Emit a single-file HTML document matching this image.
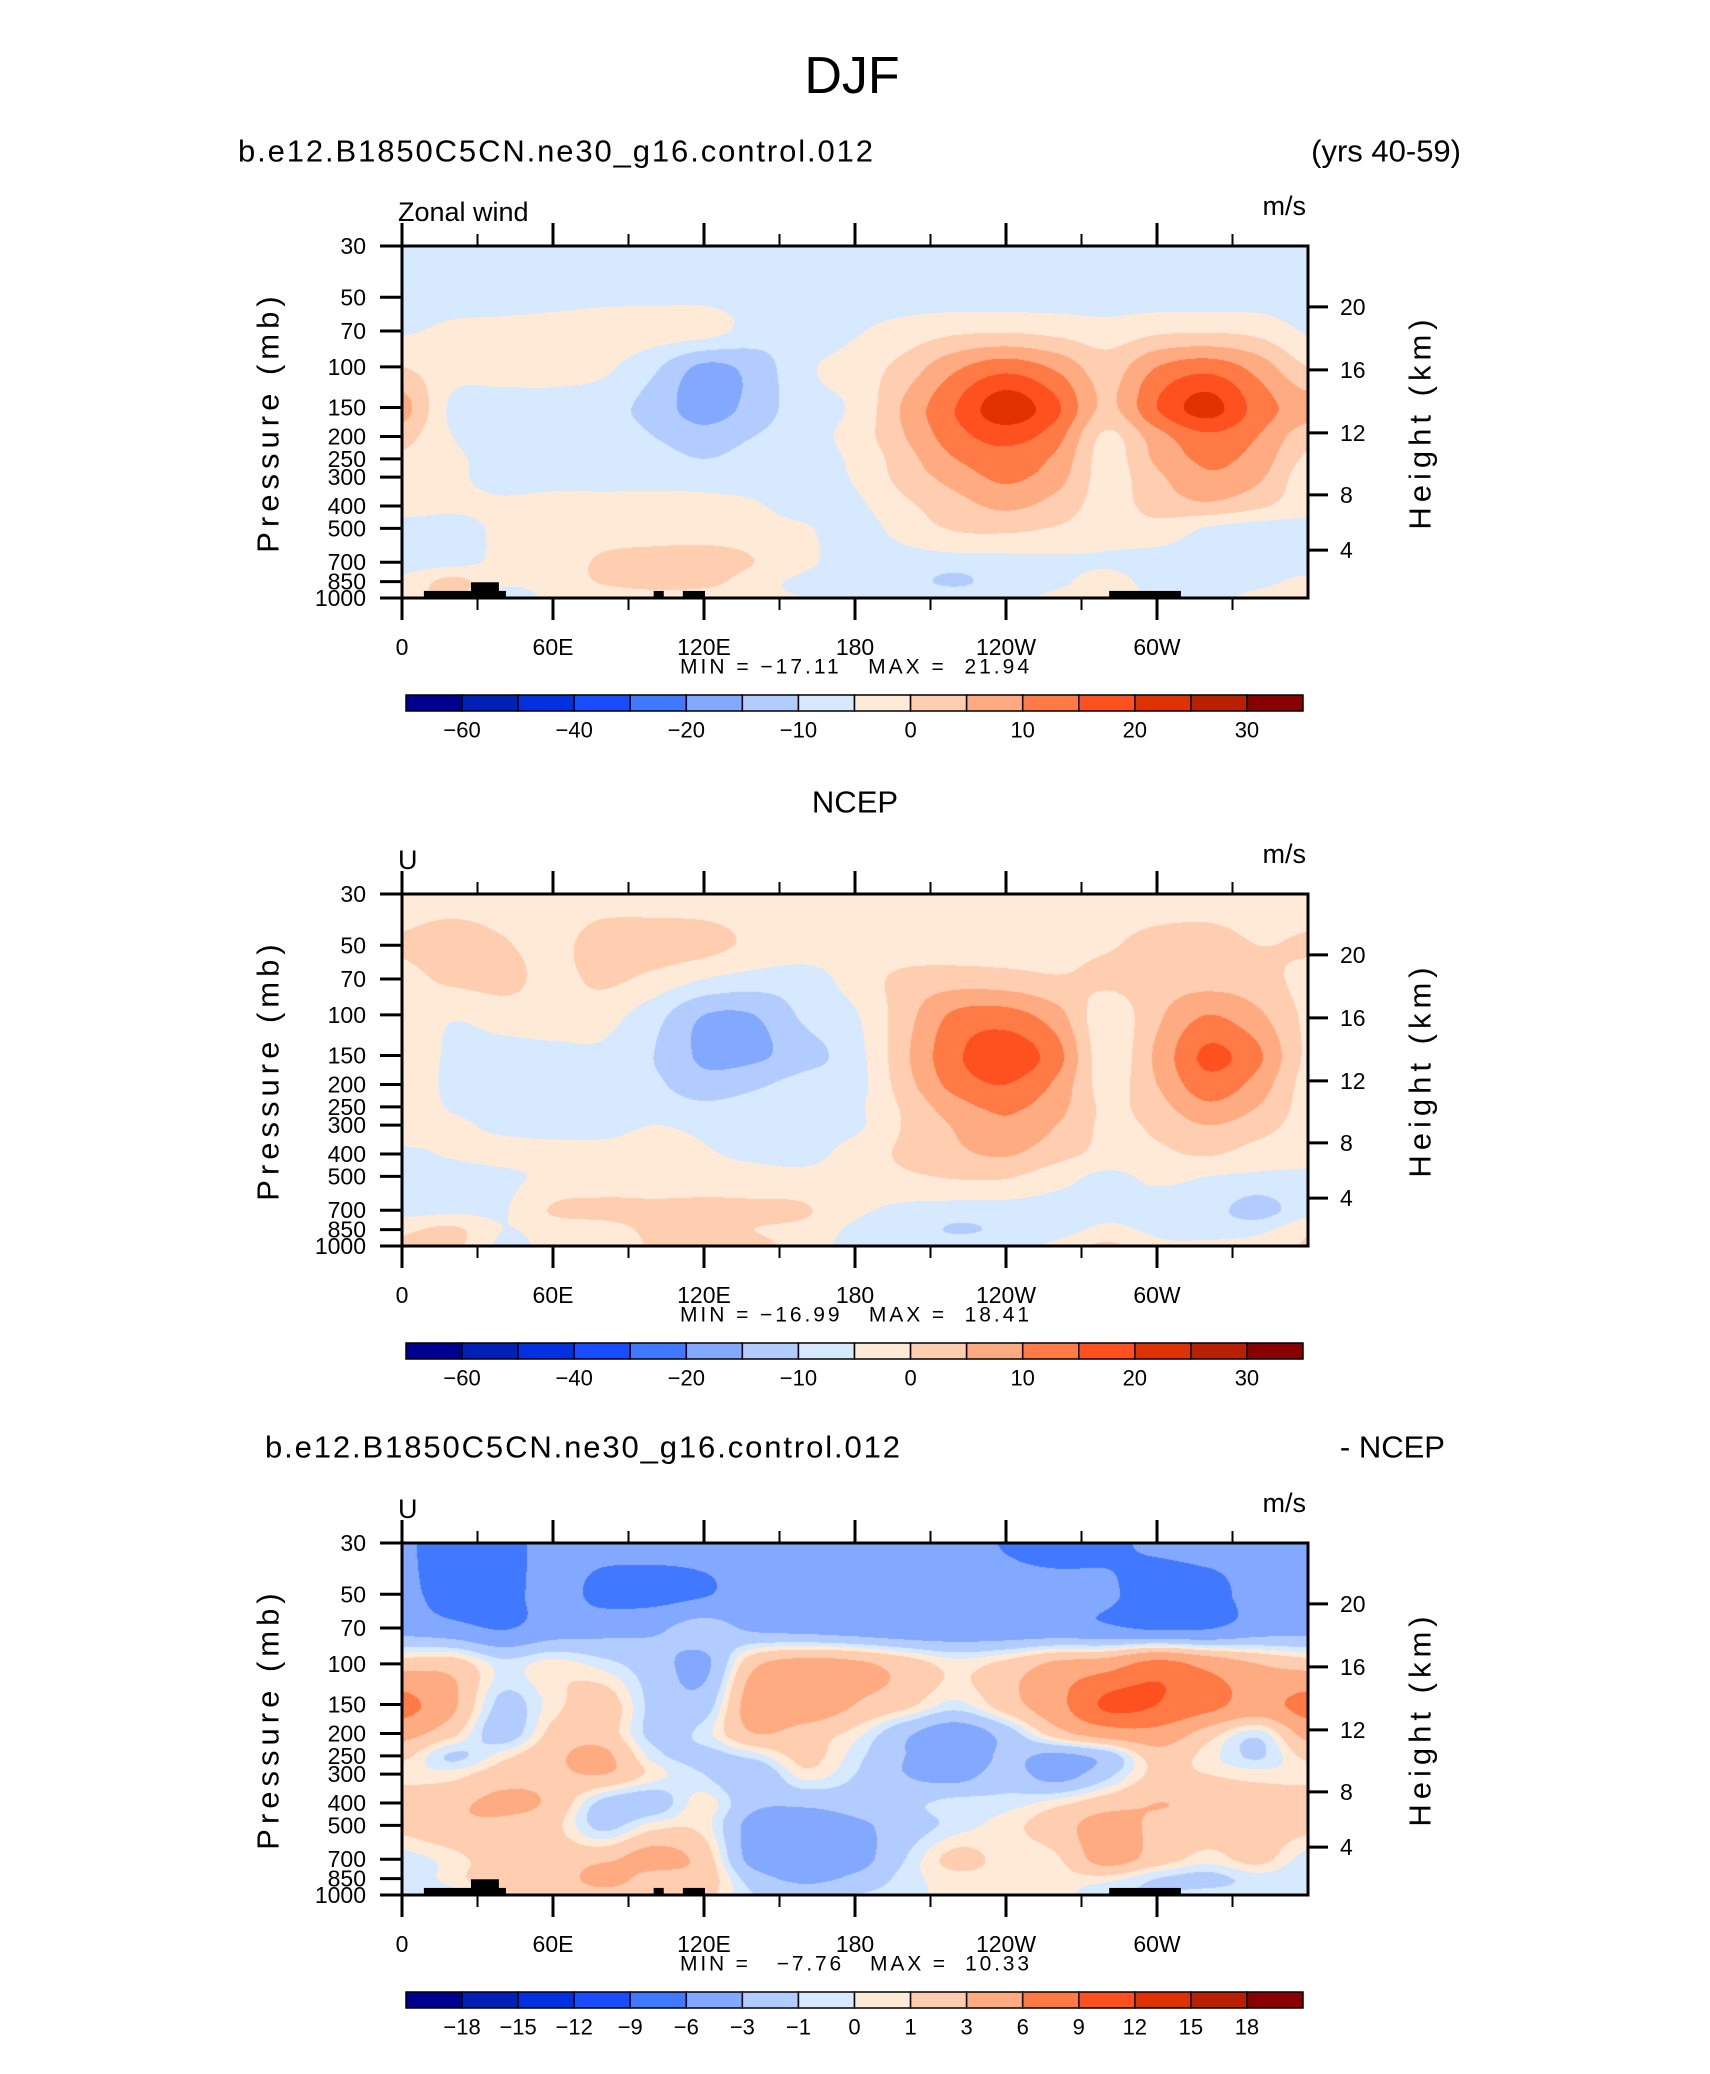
<!DOCTYPE html>
<html><head><meta charset="utf-8">
<style>
html,body{margin:0;padding:0;background:#fff;}
body{width:1710px;height:2074px;position:relative;overflow:hidden;font-family:"Liberation Sans",sans-serif;}
canvas{position:absolute;}
#ov{position:absolute;left:0;top:0;}
</style></head>
<body>
<canvas id="c1" width="906" height="352" style="left:402px;top:246px"></canvas>
<canvas id="c2" width="906" height="352" style="left:402px;top:894px"></canvas>
<canvas id="c3" width="906" height="352" style="left:402px;top:1543px"></canvas>
<svg id="ov" width="1710" height="2074" xmlns="http://www.w3.org/2000/svg"></svg>
<script>
const lons = [0,20,40,60,80,100,120,140,160,180,200,220,240,260,280,300,320,340,360];
const levs = [30,50,70,100,150,200,250,300,400,500,700,850,1000];
const presTicks = [30,50,70,100,150,200,250,300,400,500,700,850,1000];
const heightTicks = ["20","16","12","8","4"];
const lonTickLabels = ["0","60E","120E","180","120W","60W"];
const lonMajor = [0,60,120,180,240,300];
const lonMinor = [30,90,150,210,270,330];
const levels12 = [-60,-50,-40,-30,-20,-15,-10,-5,0,5,10,15,20,25,30];
const labels12 = [-60,-40,-20,-10,0,10,20,30];
const levels3 = [-18,-15,-12,-9,-6,-3,-1,0,1,3,6,9,12,15,18];
const labels3 = [-18,-15,-12,-9,-6,-3,-1,0,1,3,6,9,12,15,18];
const colors = ["#000090","#0020b8","#0030e0","#1a4cff","#4078ff","#82a8ff","#b3ccff","#d6e9ff","#ffead8","#ffcdb0","#ffab82","#ff7a45","#ff5020","#e03200","#b82000","#880000"];
const topo = [[8.7,41.3,932],[27.4,38.5,855],[100,104,932],[111.6,120.4,932],[281,309.5,932]];

const u1 = [
[-7,-7,-7,-7,-7,-7,-7,-7,-7,-7,-7,-7,-7,-7,-7,-7,-7,-7,-7],
[-7,-7,-7,-6.5,-6,-6,-6,-7,-7,-7,-7,-7,-7,-7,-7,-7,-7,-7,-7],
[-5.5,-4,-3.5,-3,-2.5,-2.5,-3,-7,-8,-5.5,-3,-1,-0.5,-1.5,-3,-1,-0.5,-1.5,-5.5],
[0,-3,-3,-3,-4,-9,-16,-13,-6,-3,2,9,13,9,2.5,10,13,8,0],
[7,-6,-7,-7,-8,-12,-17.5,-13,-7,-4,6,15,23,16,4,15,22,13,7],
[2,-5,-7,-7,-7,-10,-13,-10,-7,-3,5,13,17,12,-1,8,14,10,2],
[-1,-4,-7,-7,-7,-8,-10,-8,-7,-4,3,10,13,9,-2,6,11,8,-1],
[-3,-4,-7,-7,-7,-7,-7,-7,-7,-4.5,2,7,11,7,-2,4,9,6,-3],
[-3,-4,-4,-3,-3,-3,-3.5,-4.5,-7,-6,-1,3,6,3,-2,2,4,1,-3],
[-7,-7,-4,-3.5,-3,-3,-3,-3,-4.5,-7,-3,0.5,1,-0.5,-3,-2,-5.5,-7,-7],
[-7,-6.5,-4,-3.5,1,2.5,3,0,-4,-7,-7,-7,-6.5,-6,-5.5,-7,-7,-7,-7],
[-4,1.5,-4,-3,0.5,2,2,-3,-6,-7,-8,-11,-7,-6,-3,-7,-7,-6,-4],
[-3,1,-7,-4,-3,-2,-3,-4,-5,-5.5,-6,-6,-6,-4,-1,-6,-6,-4,-3]
];
const u2 = [
[-2.5,-2.5,-2.5,-2.5,-2.5,-2.5,-2.5,-2.5,-2.5,-2.5,-2.5,-2.5,-2.5,-2.5,-2.5,-2.5,-2.5,-2.5,-2.5],
[0.5,2.5,0.5,-1.5,2.5,2.5,1.5,-1,-2.5,-3,-3,-2.5,-2.5,-1.5,-0.5,1.5,2,0,0.5],
[-1.5,1,1.5,-1.5,1,-1.5,-5,-7,-7,-3,1.5,2.5,2,0.5,1,2.5,3,2,-1.5],
[-1,-4.5,-2.5,-2,-3,-8,-15,-15,-9,-5.5,3,11,12,7,-3,4,10,6,-1],
[-1,-6,-7,-6.5,-6,-10,-16,-16,-12,-7,4,14,18,12,-3,6,16,11,-1],
[-2,-6,-7,-7,-7,-9,-13,-11,-8,-7,3,12,15,9,-2,5,13,8,-2],
[-2,-5.5,-7,-7,-7,-7.5,-9,-8,-7,-6,1,8,11,7,-1,3,9,5,-2],
[-2,-4,-6,-7,-6.5,-5,-6,-7,-7,-6,0.5,5.5,9,5,-1,1,5,2,-2],
[-6,-4.5,-3.5,-3,-3.5,-3,-4.5,-6,-6.5,-3,1,4,5.5,2,-1.5,-1,0.5,-2,-3],
[-7,-7,-6,-4,-3.5,-3.5,-3,-3,-3.5,-3,-1,0.5,0.5,-3,-6,-4,-5,-6,-6],
[-7,-6,-5.5,0.5,1.5,1.5,1.5,1,0.5,-4,-6,-7,-7,-7,-6,-7,-8,-12,-7],
[-1,1,-5,-3,-2,1,1,0,-1.5,-6,-7.5,-10.5,-9,-7,-4,-6,-7,-6.5,-1],
[0.5,1.5,-6,-3.5,-3,0.5,1,1,-2,-7,-7,-7,-6,-4,1,-4,-4,-3,0.5]
];
const u3 = [
[-5.5,-7.5,-7,-5,-5,-5,-5,-5,-4.5,-4.5,-5,-5,-6.2,-7,-6.5,-5.5,-5,-5.5,-5.5],
[-5,-7.5,-7,-5,-6.8,-7,-6.2,-5,-5,-5,-5,-5,-5,-5,-5.5,-7.5,-7,-5,-5],
[-4,-5,-6.2,-4.5,-4,-3.5,-2,-3.5,-4,-4.5,-5,-5,-5,-5,-5.5,-6.5,-6.2,-4.5,-4],
[2,2,-0.5,0.5,-0.5,-2,-3.5,2.5,4,3.5,2,0.5,1.5,3.5,4.5,7,5,3,2],
[7,3.5,-1.5,0.5,2,-1.5,-2,4.5,5,3,1.5,-0.3,2,5,9.5,9,7,5,7],
[4,1.5,-2,1.5,2,-1.5,-0.5,3,2,0.5,-2.5,-4.5,-2,2,4.5,5,2,-0.5,4],
[1.5,-1.2,0.5,2.5,3.5,-0.5,-1.5,-0.5,1.5,-0.5,-3,-5,-2.5,-3.5,-2,2,0.5,-1.2,1.5],
[0.5,0.5,2,2.5,3,0.5,-1,-2.5,0.5,-1,-3,-4,-2,-4,-1.5,1.5,1,0.5,0.5],
[2,2.5,3.5,2.5,-1.5,-2,0.5,-2.5,-2.5,-2,-1.5,-0.5,-0.5,0.5,2,3,2.5,2,2],
[1.5,2.5,2.5,1.5,-1.5,0.5,0.5,-4,-4.5,-3.5,-2,-0.5,0.5,2,4,2.5,2,2,1.5],
[-0.5,0.5,2,2,2.5,4,2,-4,-4.5,-4,-1,1.5,0.5,0.8,4,2,0.5,1.5,-0.5],
[-1,0.5,2,1.5,4,2,2,-2,-3.5,-2.5,-0.5,0.5,0.5,0.5,0.5,-1,-1.5,-0.5,-1],
[-0.5,-0.5,2,1.5,2,1.5,1.5,-1,-2,-1,-0.5,0.5,0.5,0.5,-1,-1,-0.5,-0.5,-0.5]
];

const PX0 = 402, PW = 906, PH = 352;
const LR = Math.log(1000/30);
function yOfP(p){ return Math.log(p/30)/LR*PH; }
function xOfLon(l){ return l/360*PW; }
function hexToRgb(h){ return [parseInt(h.substr(1,2),16),parseInt(h.substr(3,2),16),parseInt(h.substr(5,2),16)]; }
const rgb = colors.map(hexToRgb);

function cr(p0,p1,p2,p3,t){
  return p1 + 0.5*t*(p2-p0 + t*(2*p0-5*p1+4*p2-p3 + t*(3*(p1-p2)+p3-p0)));
}
function sample(grid, r, c){
  const nr = grid.length, nc = grid[0].length;
  const ri = Math.floor(r), ci = Math.floor(c);
  const tr = r-ri, tc = c-ci;
  const rows = [];
  for (let k=-1;k<=2;k++){
    const rr = Math.min(nr-1, Math.max(0, ri+k));
    const vals = [];
    for (let m=-1;m<=2;m++){
      const cc = Math.min(nc-1, Math.max(0, ci+m));
      vals.push(grid[rr][cc]);
    }
    rows.push(cr(vals[0],vals[1],vals[2],vals[3],tc));
  }
  return cr(rows[0],rows[1],rows[2],rows[3],tr);
}
function renderField(id, grid, lv){
  const cv = document.getElementById(id);
  const ctx = cv.getContext('2d');
  const img = ctx.createImageData(PW, PH);
  const lnl = levs.map(Math.log);
  for (let py=0; py<PH; py++){
    const lp = Math.log(30) + (py+0.5)/PH*LR;
    let i=0; while (i<levs.length-2 && lp>lnl[i+1]) i++;
    let r = i + (lp-lnl[i])/(lnl[i+1]-lnl[i]);
    r = Math.max(0, Math.min(levs.length-1, r));
    for (let px=0; px<PW; px++){
      const lon = (px+0.5)/PW*360;
      const c = Math.min(lons.length-1.0001, lon/20);
      const v = sample(grid, r, c);
      let k=0; while (k<lv.length && v>=lv[k]) k++;
      const col = rgb[k];
      const o = (py*PW+px)*4;
      img.data[o]=col[0]; img.data[o+1]=col[1]; img.data[o+2]=col[2]; img.data[o+3]=255;
    }
  }
  ctx.putImageData(img,0,0);
}
renderField('c1', u1, levels12);
renderField('c2', u2, levels12);
renderField('c3', u3, levels3);

const NS = "http://www.w3.org/2000/svg";
const ov = document.getElementById('ov');
function mk(tag, attrs, parent){
  const e = document.createElementNS(NS, tag);
  for (const k in attrs) e.setAttribute(k, attrs[k]);
  (parent||ov).appendChild(e);
  return e;
}
function txt(x,y,s,size,anchor,parent){
  const t = mk('text',{x:x,y:y,'font-size':size,'text-anchor':anchor||'start','dominant-baseline':'central','font-family':'Liberation Sans, sans-serif',fill:'#000'},parent);
  t.textContent = s;
  return t;
}
const hFrac = [0.173,0.352,0.531,0.707,0.864];

function drawPanel(top, opts){
  const g = mk('g',{});
  
  
  if (opts.topo){
    topo.forEach(tp=>{
      const x0 = PX0 + xOfLon(tp[0]), x1 = PX0 + xOfLon(tp[1]);
      const y0 = top + yOfP(tp[2]);
      const r = mk('rect',{x:x0,y:y0,width:x1-x0,height:top+PH-y0,fill:'#000'},g);
      
      
    });
  }
  const fr = mk('rect',{x:PX0,y:top,width:PW,height:PH,fill:'none',stroke:'#000','stroke-width':3},g);
  
  
  presTicks.forEach(p=>{
    const y = top + yOfP(p);
    mk('line',{x1:PX0-22,y1:y,x2:PX0,y2:y,stroke:'#000','stroke-width':3},g);
    const t = txt(PX0-36, y, String(p), 23, 'end', g);
    
    
  });
  heightTicks.forEach((h,i)=>{
    const y = top + hFrac[i]*PH;
    mk('line',{x1:PX0+PW,y1:y,x2:PX0+PW+20,y2:y,stroke:'#000','stroke-width':3},g);
    const t = txt(PX0+PW+32, y, h, 23, 'start', g);
    
    
  });
  lonMajor.forEach((l,i)=>{
    const x = PX0 + xOfLon(l);
    mk('line',{x1:x,y1:top-23,x2:x,y2:top,stroke:'#000','stroke-width':3},g);
    mk('line',{x1:x,y1:top+PH,x2:x,y2:top+PH+22,stroke:'#000','stroke-width':3},g);
    const t = txt(x, top+401, lonTickLabels[i], 23, 'middle', g);
    
    
  });
  lonMinor.forEach(l=>{
    const x = PX0 + xOfLon(l);
    mk('line',{x1:x,y1:top-12,x2:x,y2:top,stroke:'#000','stroke-width':2},g);
    mk('line',{x1:x,y1:top+PH,x2:x,y2:top+PH+12,stroke:'#000','stroke-width':2},g);
  });
  const ya = txt(0,0,'Pressure (mb)',31,'middle',g);
  ya.setAttribute('transform','translate(268,'+(top+176)+') rotate(-90)');
  ya.setAttribute('letter-spacing','5');
  
  
  const yr = txt(0,0,'Height (km)',31,'middle',g);
  yr.setAttribute('transform','translate(1420,'+(top+176)+') rotate(-90)');
  yr.setAttribute('letter-spacing','5');
  
  
  const vl = txt(398, top-34, opts.varName, 27, 'start', g);
  
  
  const ul = txt(1306, top-40, 'm/s', 27, 'end', g);
  
  
  const mm = txt(680, top+421, opts.minmax, 21, 'start', g);
  
  
  mm.setAttribute('textLength', '349');
  mm.setAttribute('lengthAdjust', 'spacing');
  mm.style.whiteSpace = 'pre';
  const cbx = 406, cbw = 897, cby = top+449, cbh = 16, bw = cbw/16;
  colors.forEach((c,k)=>{
    const b = mk('rect',{x:cbx+k*bw,y:cby,width:bw,height:cbh,fill:c,stroke:'#000','stroke-width':1.5},g);
    
    
  });
  opts.levels.forEach((v,i)=>{
    if (opts.labels.indexOf(v) < 0) return;
    const x = cbx + (i+1)*bw;
    const t = txt(x, top+484, (v<0?'\u2212'+(-v):String(v)), 22, 'middle', g);
    
    
  });
}

const title = txt(852, 76, 'DJF', 52, 'middle');


const s1 = txt(238, 151, 'b.e12.B1850C5CN.ne30_g16.control.012', 31, 'start');


s1.setAttribute('textLength', '635');
const s1r = txt(1461, 151, '(yrs 40-59)', 31, 'end');


const s2 = txt(855, 802, 'NCEP', 31, 'middle');


const s3 = txt(265, 1447, 'b.e12.B1850C5CN.ne30_g16.control.012', 31, 'start');


s3.setAttribute('textLength', '635');
const s3r = txt(1445, 1447, '- NCEP', 31, 'end');



drawPanel(246, {name:'model-panel', varName:'Zonal wind', minmax:'MIN = \u221217.11   MAX =  21.94', levels:levels12, labels:labels12, topo:true});
drawPanel(894, {name:'ncep-panel', varName:'U', minmax:'MIN = \u221216.99   MAX =  18.41', levels:levels12, labels:labels12, topo:false});
drawPanel(1543, {name:'difference-panel', varName:'U', minmax:'MIN =   \u22127.76   MAX =  10.33', levels:levels3, labels:labels3, topo:true});
</script>
</body></html>
